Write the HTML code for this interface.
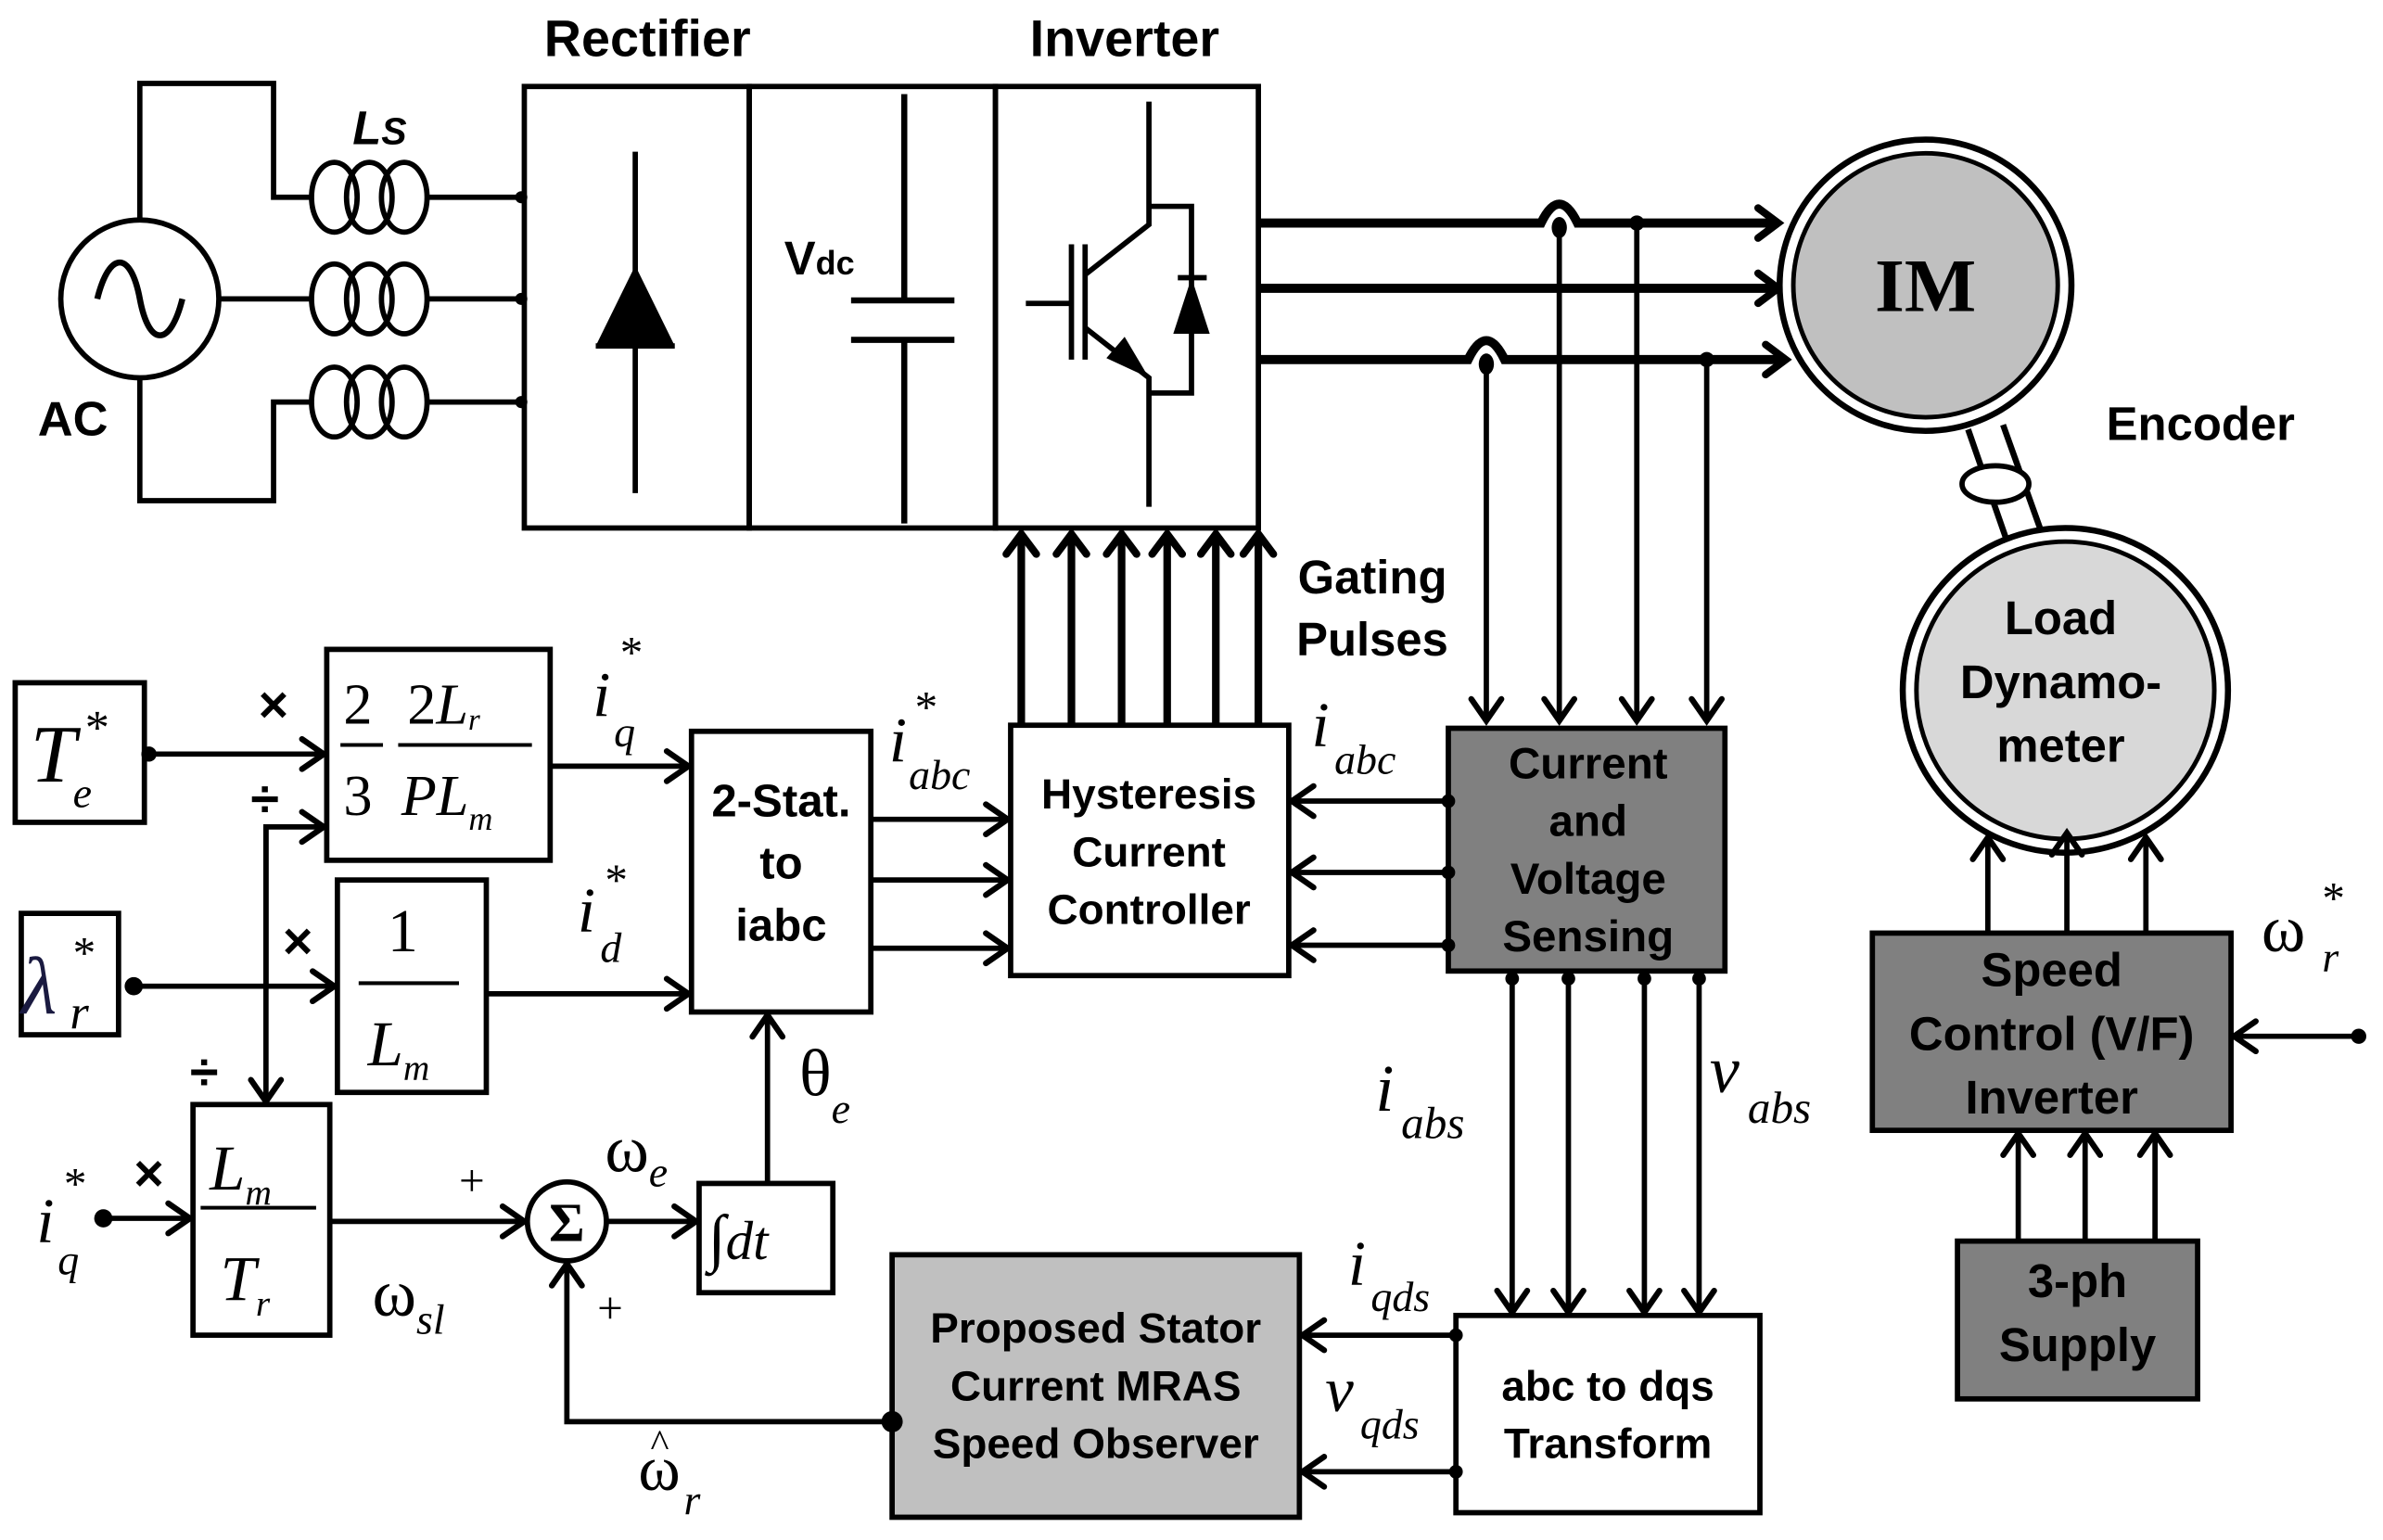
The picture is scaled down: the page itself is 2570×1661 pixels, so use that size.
<!DOCTYPE html>
<html><head><meta charset="utf-8"><style>
html,body{margin:0;padding:0;background:#fff;}
svg{display:block;}
.b{font-family:"Liberation Sans",sans-serif;font-weight:bold;}
.m{font-family:"Liberation Serif",serif;font-style:italic;}
.r{font-family:"Liberation Serif",serif;}
.op{font-family:"Liberation Sans",sans-serif;font-weight:bold;font-size:34px;}
</style></head><body>
<svg width="2570" height="1661" viewBox="0 0 1568 1015" preserveAspectRatio="none" xmlns="http://www.w3.org/2000/svg">
<defs>
<marker id="a" viewBox="0 0 20 20" refX="18" refY="10" markerWidth="22" markerHeight="22" markerUnits="userSpaceOnUse" orient="auto" overflow="visible">
<path d="M5,1 L18,10 L5,19" fill="none" stroke="#000" stroke-width="3.5" stroke-linecap="round"/>
</marker>
<marker id="g" viewBox="0 0 20 20" refX="17" refY="10" markerWidth="22" markerHeight="22" markerUnits="userSpaceOnUse" orient="auto" overflow="visible">
<path d="M5,1 L17,10 L5,19" fill="none" stroke="#000" stroke-width="4.5" stroke-linecap="round"/>
</marker>
</defs>
<g fill="none" stroke="#000" stroke-width="3.5">
<!-- AC source -->
<circle cx="92" cy="197" r="52"/>
<path d="M64,197 C72,165 86,165 92,197 C98,229 112,229 120,197" stroke-width="4"/>
<path d="M92,145 V55 H180 V130 H205 M145,197 H205 M92,249 V330 H180 V265 H205"/>
<!-- coils -->
<g stroke-width="3.5">
<ellipse cx="220" cy="130" rx="15" ry="23"/><ellipse cx="243" cy="130" rx="15" ry="23"/><ellipse cx="266" cy="130" rx="15" ry="23"/>
<ellipse cx="220" cy="197" rx="15" ry="23"/><ellipse cx="243" cy="197" rx="15" ry="23"/><ellipse cx="266" cy="197" rx="15" ry="23"/>
<ellipse cx="220" cy="265" rx="15" ry="23"/><ellipse cx="243" cy="265" rx="15" ry="23"/><ellipse cx="266" cy="265" rx="15" ry="23"/>
</g>
<path d="M281,130 H345 M281,197 H345 M281,265 H345"/>
<!-- boxes -->
<rect x="345" y="57" width="148" height="291"/>
<rect x="493" y="57" width="162" height="291"/>
<rect x="655" y="57" width="173" height="291"/>
<path d="M418,100 V325 M392,228 H444"/>
<path d="M595,62 V198 M560,198 H628 M560,224 H628 M595,224 V345" stroke-width="4"/>
<path d="M756,67 V136 H784 V259 H756 M756,136 V148 L714,181 M705,161 V237 M714,161 V237 M675,200 H705 M714,216 L756,249 V334 M775,183 H794"/>
</g>
<polygon points="392,228 444,228 418,175" fill="#000"/>
<polygon points="772,220 796,220 784,183" fill="#000"/>
<polygon points="756,249 728,236 740,222" fill="#000"/>
<g fill="#000">
<circle cx="343" cy="130" r="4"/><circle cx="343" cy="197" r="4"/><circle cx="343" cy="265" r="4"/>
</g>
<g fill="none" stroke="#000" stroke-width="6">
<path d="M828,147 H1014 Q1026,122 1038,147 H1170" marker-end="url(#g)"/>
<path d="M828,190 H1170" marker-end="url(#g)"/>
<path d="M828,237 H966 Q978,212 990,237 H1175" marker-end="url(#g)"/>
</g>
<g fill="none" stroke="#000" stroke-width="3.5">
<path d="M1026,150 V475" marker-end="url(#a)"/>
<path d="M1077,147 V475" marker-end="url(#a)"/>
<path d="M978,240 V475" marker-end="url(#a)"/>
<path d="M1123,237 V475" marker-end="url(#a)"/>
</g>
<g fill="#000"><ellipse cx="1026" cy="150" rx="5" ry="7"/><circle cx="1077" cy="147" r="5"/><ellipse cx="978" cy="240" rx="5" ry="7"/><circle cx="1123" cy="237" r="5"/></g>
<!-- IM -->
<circle cx="1267" cy="188" r="96" fill="#fff" stroke="#000" stroke-width="4"/>
<circle cx="1267" cy="188" r="87" fill="#c0c0c0" stroke="#000" stroke-width="3"/>
<text x="1267" y="205" text-anchor="middle" style="font-family:'Liberation Serif',serif;font-weight:bold;font-size:50px">IM</text>
<path d="M1295,283 L1320,355 M1318,280 L1343,350" stroke="#000" stroke-width="4" fill="none"/>
<ellipse cx="1313" cy="319" rx="22" ry="12" fill="#fff" stroke="#000" stroke-width="3.5"/>
<circle cx="1359" cy="455" r="107" fill="#fff" stroke="#000" stroke-width="4"/>
<circle cx="1359" cy="455" r="98" fill="#d8d8d8" stroke="#000" stroke-width="3"/>
<text class="b" x="1356" y="418" text-anchor="middle" font-size="31">Load</text>
<text class="b" x="1356" y="460" text-anchor="middle" font-size="31">Dynamo-</text>
<text class="b" x="1356" y="502" text-anchor="middle" font-size="31">meter</text>
<g fill="none" stroke="#000" stroke-width="5">
<path d="M672,478 V352" marker-end="url(#g)"/><path d="M705,478 V352" marker-end="url(#g)"/>
<path d="M738,478 V352" marker-end="url(#g)"/><path d="M768,478 V352" marker-end="url(#g)"/>
<path d="M800,478 V352" marker-end="url(#g)"/><path d="M828,478 V352" marker-end="url(#g)"/>
</g>
<g stroke="#000" stroke-width="3.5">
<rect x="665" y="478" width="183" height="165" fill="#fff"/>
<rect x="953" y="480" width="182" height="160" fill="#808080"/>
<rect x="455" y="482" width="118" height="185" fill="#fff"/>
<rect x="958" y="867" width="200" height="130" fill="#fff"/>
<rect x="587" y="827" width="268" height="173" fill="#c0c0c0"/>
<rect x="460" y="780" width="88" height="72" fill="#fff"/>
<rect x="10" y="450" width="85" height="92" fill="#fff"/>
<rect x="14" y="602" width="64" height="80" fill="#fff"/>
<rect x="215" y="428" width="147" height="139" fill="#fff"/>
<rect x="222" y="580" width="98" height="140" fill="#fff"/>
<rect x="127" y="728" width="90" height="152" fill="#fff"/>
<rect x="1232" y="615" width="236" height="130" fill="#808080"/>
<rect x="1288" y="818" width="158" height="104" fill="#808080"/>
<circle cx="373" cy="805" r="26" fill="#fff"/>
</g>
<g fill="none" stroke="#000" stroke-width="3.5">
<path d="M953,528 H850" marker-end="url(#a)"/><path d="M953,575 H850" marker-end="url(#a)"/><path d="M953,623 H850" marker-end="url(#a)"/>
<path d="M573,540 H663" marker-end="url(#a)"/><path d="M573,580 H663" marker-end="url(#a)"/><path d="M573,625 H663" marker-end="url(#a)"/>
<path d="M995,640 V865" marker-end="url(#a)"/><path d="M1032,640 V865" marker-end="url(#a)"/>
<path d="M1082,640 V865" marker-end="url(#a)"/><path d="M1118,640 V865" marker-end="url(#a)"/>
<path d="M958,880 H857" marker-end="url(#a)"/><path d="M958,970 H857" marker-end="url(#a)"/>
<path d="M587,937 H373 V833" marker-end="url(#a)"/>
<path d="M399,805 H458" marker-end="url(#a)"/>
<path d="M505,780 V669" marker-end="url(#a)"/>
<path d="M95,497 H213" marker-end="url(#a)"/>
<path d="M362,505 H453" marker-end="url(#a)"/>
<path d="M88,650 H220" marker-end="url(#a)"/>
<path d="M320,655 H453" marker-end="url(#a)"/>
<path d="M175,650 V545 H213" marker-end="url(#a)"/>
<path d="M175,545 V726" marker-end="url(#a)"/>
<path d="M68,803 H125" marker-end="url(#a)"/>
<path d="M217,805 H345" marker-end="url(#a)"/>
<path d="M1308,615 V552" marker-end="url(#a)"/><path d="M1360,615 V549" marker-end="url(#a)"/><path d="M1412,615 V552" marker-end="url(#a)"/>
<path d="M1552,683 H1470" marker-end="url(#a)"/>
<path d="M1328,818 V747" marker-end="url(#a)"/><path d="M1372,818 V747" marker-end="url(#a)"/><path d="M1418,818 V747" marker-end="url(#a)"/>
</g>
<g fill="#000">
<circle cx="953" cy="528" r="4.5"/><circle cx="953" cy="575" r="4.5"/><circle cx="953" cy="623" r="4.5"/>
<circle cx="995" cy="645" r="4.5"/><circle cx="1032" cy="645" r="4.5"/><circle cx="1082" cy="645" r="4.5"/><circle cx="1118" cy="645" r="4.5"/>
<circle cx="958" cy="880" r="4.5"/><circle cx="958" cy="970" r="4.5"/>
<circle cx="587" cy="937" r="7"/>
<circle cx="98" cy="497" r="5"/><circle cx="88" cy="650" r="6"/><circle cx="68" cy="803" r="6"/>
<circle cx="1552" cy="683" r="5"/>
</g>
<g class="b" fill="#000">
<text x="426" y="37" text-anchor="middle" font-size="34">Rectifier</text>
<text x="740" y="37" text-anchor="middle" font-size="34">Inverter</text>
<text x="48" y="287" text-anchor="middle" font-size="32">AC</text>
<text x="516" y="181" font-size="31">V<tspan font-size="22">dc</tspan></text>
<text x="1448" y="290" text-anchor="middle" font-size="31">Encoder</text>
<text x="903" y="391" text-anchor="middle" font-size="31">Gating</text>
<text x="903" y="432" text-anchor="middle" font-size="31">Pulses</text>
<text x="756" y="533" text-anchor="middle" font-size="28">Hysteresis</text>
<text x="756" y="571" text-anchor="middle" font-size="28">Current</text>
<text x="756" y="609" text-anchor="middle" font-size="28">Controller</text>
<text x="1045" y="513" text-anchor="middle" font-size="29">Current</text>
<text x="1045" y="551" text-anchor="middle" font-size="29">and</text>
<text x="1045" y="589" text-anchor="middle" font-size="29">Voltage</text>
<text x="1045" y="627" text-anchor="middle" font-size="29">Sensing</text>
<text x="514" y="538" text-anchor="middle" font-size="30">2-Stat.</text>
<text x="514" y="579" text-anchor="middle" font-size="30">to</text>
<text x="514" y="620" text-anchor="middle" font-size="30">iabc</text>
<text x="1058" y="923" text-anchor="middle" font-size="28">abc to dqs</text>
<text x="1058" y="961" text-anchor="middle" font-size="28">Transform</text>
<text x="721" y="885" text-anchor="middle" font-size="28">Proposed Stator</text>
<text x="721" y="923" text-anchor="middle" font-size="28">Current MRAS</text>
<text x="721" y="961" text-anchor="middle" font-size="28">Speed Observer</text>
<text x="1350" y="650" text-anchor="middle" font-size="31">Speed</text>
<text x="1350" y="692" text-anchor="middle" font-size="31">Control (V/F)</text>
<text x="1350" y="734" text-anchor="middle" font-size="31">Inverter</text>
<text x="1367" y="855" text-anchor="middle" font-size="31">3-ph</text>
<text x="1367" y="897" text-anchor="middle" font-size="31">Supply</text>
<text x="232" y="95" font-size="31" font-style="italic">L<tspan font-size="25">S</tspan></text>
</g>
<g fill="#000">
<text class="m" x="20" y="515" font-size="54">T</text><text class="r" x="56" y="490" font-size="32">*</text><text class="m" x="48" y="532" font-size="28">e</text>
<text class="m" x="14" y="668" font-size="54" fill="#1a1a40">λ</text><text class="r" x="48" y="638" font-size="30">*</text><text class="m" x="46" y="678" font-size="32">r</text>
<text class="r" x="226" y="477" font-size="38">2</text><line x1="224" y1="491" x2="252" y2="491" stroke="#000" stroke-width="2.5"/><text class="r" x="226" y="537" font-size="38">3</text>
<text class="r" x="268" y="477" font-size="38">2<tspan font-style="italic">L</tspan><tspan font-style="italic" font-size="20" dy="4">r</tspan></text>
<line x1="262" y1="491" x2="350" y2="491" stroke="#000" stroke-width="2.5"/>
<text class="m" x="264" y="537" font-size="38">PL<tspan font-size="22" dy="10">m</tspan></text>
<text class="r" x="255" y="627" font-size="40">1</text><line x1="236" y1="648" x2="302" y2="648" stroke="#000" stroke-width="2.5"/>
<text class="m" x="242" y="702" font-size="42">L<tspan font-size="24" dy="10">m</tspan></text>
<text class="m" x="138" y="784" font-size="42">L<tspan font-size="24" dy="10">m</tspan></text><line x1="132" y1="796" x2="208" y2="796" stroke="#000" stroke-width="2.5"/>
<text class="m" x="145" y="857" font-size="42">T<tspan font-size="24" dy="10">r</tspan></text>
<text class="r" x="373" y="818" text-anchor="middle" font-size="36" font-weight="bold">Σ</text>
<text class="m" x="466" y="830" font-size="42">∫<tspan font-size="36">dt</tspan></text>
<text class="op" x="170" y="476">×</text>
<text class="op" x="165" y="538">÷</text>
<text class="op" x="186" y="632">×</text>
<text class="op" x="125" y="718">÷</text>
<text class="op" x="88" y="785">×</text>
<text class="r" x="302" y="788" font-size="30">+</text>
<text class="r" x="393" y="872" font-size="30">+</text>
<text class="m" x="390" y="472" font-size="42">i</text><text class="r" x="408" y="440" font-size="30">*</text><text class="m" x="404" y="492" font-size="28">q</text>
<text class="m" x="380" y="614" font-size="42">i</text><text class="r" x="398" y="590" font-size="30">*</text><text class="m" x="395" y="634" font-size="28">d</text>
<text class="m" x="585" y="502" font-size="42">i</text><text class="r" x="602" y="476" font-size="30">*</text><text class="m" x="598" y="520" font-size="28">abc</text>
<text class="m" x="863" y="492" font-size="42">i</text><text class="m" x="878" y="510" font-size="28">abc</text>
<text class="m" x="24" y="819" font-size="42">i</text><text class="r" x="42" y="790" font-size="30">*</text><text class="m" x="38" y="840" font-size="28">q</text>
<text class="r" x="526" y="722" font-size="44">θ<tspan class="m" font-size="28" dy="18">e</tspan></text>
<text class="r" x="398" y="772" font-size="44">ω<tspan class="m" font-size="28" dy="10">e</tspan></text>
<text class="r" x="245" y="867" font-size="44">ω<tspan class="m" font-size="28" dy="12">sl</tspan></text>
<text class="r" x="420" y="982" font-size="42">ω</text><text class="r" x="428" y="960" font-size="26">^</text><text class="m" x="450" y="998" font-size="28">r</text>
<text class="m" x="905" y="732" font-size="44">i</text><text class="m" x="922" y="750" font-size="30">abs</text>
<text class="m" x="1125" y="720" font-size="44">v</text><text class="m" x="1150" y="740" font-size="30">abs</text>
<text class="m" x="887" y="847" font-size="42">i</text><text class="m" x="902" y="864" font-size="28">qds</text>
<text class="m" x="872" y="930" font-size="42">v</text><text class="m" x="895" y="948" font-size="28">qds</text>
<text class="r" x="1488" y="627" font-size="44">ω</text><text class="r" x="1528" y="602" font-size="30">*</text><text class="m" x="1528" y="640" font-size="28">r</text>
</g>
</svg>
</body></html>
